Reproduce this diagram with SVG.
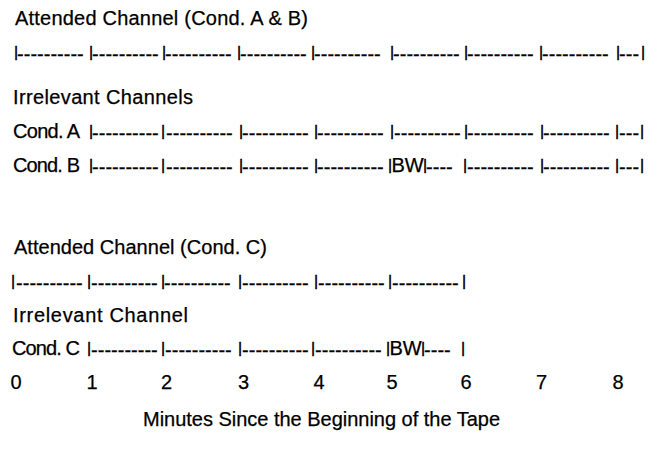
<svg xmlns="http://www.w3.org/2000/svg" width="653" height="463" viewBox="0 0 653 463">
  <style>
    .t { font-family: "Liberation Sans", Arial, Helvetica, sans-serif; font-size: 20px; fill: #000; stroke: #000; stroke-width: 0.25px; }
    .b { font-size: 14px; stroke-width: 0.55px; }
    .n { text-anchor: middle; }
  </style>
  <rect width="653" height="463" fill="#fff"/>

  <!-- Upper block: conditions A and B -->
  <g id="attended-ab">
    <text class="t" x="15" y="25" textLength="293" lengthAdjust="spacing">Attended Channel (Cond. A &amp; B)</text>
    <text class="t">
      <tspan class="b" x="14.2" y="56.7">|</tspan><tspan x="17.1" y="60.5">----------</tspan>
      <tspan class="b" x="89.2" y="56.7">|</tspan><tspan x="92.1" y="60.5">----------</tspan>
      <tspan class="b" x="162.2" y="56.7">|</tspan><tspan x="165.1" y="60.5">----------</tspan>
      <tspan class="b" x="237.2" y="56.7">|</tspan><tspan x="240.1" y="60.5">----------</tspan>
      <tspan class="b" x="311.2" y="56.7">|</tspan><tspan x="314.1" y="60.5">----------</tspan>
      <tspan class="b" x="390.2" y="56.7">|</tspan><tspan x="393.1" y="60.5">----------</tspan>
      <tspan class="b" x="464.2" y="56.7">|</tspan><tspan x="467.1" y="60.5">----------</tspan>
      <tspan class="b" x="539.2" y="56.7">|</tspan><tspan x="542.1" y="60.5">----------</tspan>
      <tspan class="b" x="616.2" y="56.7">|</tspan><tspan x="619.1" y="60.5">---</tspan>
      <tspan class="b" x="641.2" y="56.7">|</tspan>
    </text>
  </g>

  <g id="irrelevant-ab">
    <text class="t" x="13" y="104" textLength="180" lengthAdjust="spacing">Irrelevant Channels</text>
  </g>

  <g id="cond-a">
    <text class="t" x="13" y="138" textLength="67" lengthAdjust="spacing">Cond. A</text>
    <text class="t">
      <tspan class="b" x="89.2" y="136.2">|</tspan><tspan x="92.1" y="140">----------</tspan>
      <tspan class="b" x="161.2" y="136.2">|</tspan><tspan x="166.1" y="140">----------</tspan>
      <tspan class="b" x="239.2" y="136.2">|</tspan><tspan x="242.1" y="140">----------</tspan>
      <tspan class="b" x="314.2" y="136.2">|</tspan><tspan x="317.1" y="140">----------</tspan>
      <tspan class="b" x="390.2" y="136.2">|</tspan><tspan x="394.1" y="140">----------</tspan>
      <tspan class="b" x="464.2" y="136.2">|</tspan><tspan x="467.1" y="140">----------</tspan>
      <tspan class="b" x="540.2" y="136.2">|</tspan><tspan x="543.1" y="140">----------</tspan>
      <tspan class="b" x="615.2" y="136.2">|</tspan><tspan x="619.1" y="140">---</tspan>
      <tspan class="b" x="640.2" y="136.2">|</tspan>
    </text>
  </g>

  <g id="cond-b">
    <text class="t" x="13" y="172" textLength="67" lengthAdjust="spacing">Cond. B</text>
    <text class="t">
      <tspan class="b" x="89.2" y="170.2">|</tspan><tspan x="92.1" y="174">----------</tspan>
      <tspan class="b" x="161.2" y="170.2">|</tspan><tspan x="166.1" y="174">----------</tspan>
      <tspan class="b" x="239.2" y="170.2">|</tspan><tspan x="242.1" y="174">----------</tspan>
      <tspan class="b" x="314.2" y="170.2">|</tspan><tspan x="317.1" y="174">----------</tspan>
      <tspan class="b" x="388.2" y="170.2">|</tspan><tspan x="391.5" y="172">BW</tspan><tspan class="b" x="423.2" y="170.2">|</tspan><tspan x="426.1" y="174">----</tspan>
      <tspan class="b" x="463.2" y="170.2">|</tspan><tspan x="467.1" y="174">----------</tspan>
      <tspan class="b" x="540.2" y="170.2">|</tspan><tspan x="543.1" y="174">----------</tspan>
      <tspan class="b" x="615.2" y="170.2">|</tspan><tspan x="619.1" y="174">---</tspan>
      <tspan class="b" x="640.2" y="170.2">|</tspan>
    </text>
  </g>

  <!-- Lower block: condition C -->
  <g id="attended-c">
    <text class="t" x="14" y="254" textLength="253" lengthAdjust="spacing">Attended Channel (Cond. C)</text>
    <text class="t">
      <tspan class="b" x="11.2" y="285.7">|</tspan><tspan x="16.1" y="289.5">----------</tspan>
      <tspan class="b" x="87.2" y="285.7">|</tspan><tspan x="91.1" y="289.5">----------</tspan>
      <tspan class="b" x="161.2" y="285.7">|</tspan><tspan x="164.1" y="289.5">----------</tspan>
      <tspan class="b" x="238.2" y="285.7">|</tspan><tspan x="242.1" y="289.5">----------</tspan>
      <tspan class="b" x="314.2" y="285.7">|</tspan><tspan x="318.1" y="289.5">----------</tspan>
      <tspan class="b" x="388.2" y="285.7">|</tspan><tspan x="392.1" y="289.5">----------</tspan>
      <tspan class="b" x="462.2" y="285.7">|</tspan>
    </text>
  </g>

  <g id="irrelevant-c">
    <text class="t" x="13" y="321.5" textLength="175" lengthAdjust="spacing">Irrelevant Channel</text>
  </g>

  <g id="cond-c">
    <text class="t" x="12" y="355" textLength="68" lengthAdjust="spacing">Cond. C</text>
    <text class="t">
      <tspan class="b" x="87.2" y="353.2">|</tspan><tspan x="91.1" y="357">----------</tspan>
      <tspan class="b" x="161.2" y="353.2">|</tspan><tspan x="165.1" y="357">----------</tspan>
      <tspan class="b" x="238.2" y="353.2">|</tspan><tspan x="242.1" y="357">----------</tspan>
      <tspan class="b" x="311.2" y="353.2">|</tspan><tspan x="315.1" y="357">----------</tspan>
      <tspan class="b" x="386.2" y="353.2">|</tspan><tspan x="389.5" y="355">BW</tspan><tspan class="b" x="421.2" y="353.2">|</tspan><tspan x="424.1" y="357">----</tspan>
      <tspan class="b" x="461.2" y="353.2">|</tspan>
    </text>
  </g>

  <!-- Time axis, in minutes -->
  <g id="axis">
    <text class="t n" x="16" y="388.5">0</text>
    <text class="t n" x="92" y="388.5">1</text>
    <text class="t n" x="166.5" y="388.5">2</text>
    <text class="t n" x="243.5" y="388.5">3</text>
    <text class="t n" x="319" y="388.5">4</text>
    <text class="t n" x="392" y="388.5">5</text>
    <text class="t n" x="466" y="388.5">6</text>
    <text class="t n" x="541.5" y="388.5">7</text>
    <text class="t n" x="618" y="388.5">8</text>
    <text class="t" x="143" y="426" textLength="357" lengthAdjust="spacing">Minutes Since the Beginning of the Tape</text>
  </g>
</svg>
